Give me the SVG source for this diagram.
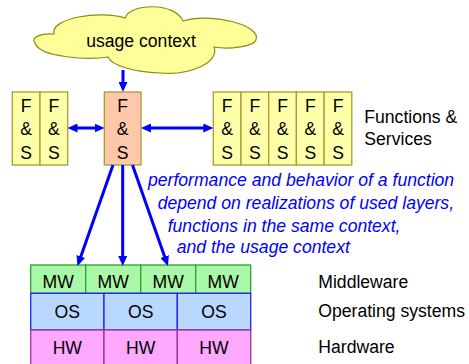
<svg xmlns="http://www.w3.org/2000/svg" width="469" height="364" viewBox="0 0 469 364">
<style>
text{font-family:"Liberation Sans",Arial,sans-serif;font-size:17.6px;fill:#000}
.c{text-anchor:middle}
.note{fill:#0000ff;font-style:italic}
.fs{fill:#ffffaa;stroke:#a89c30;stroke-width:1.3}
.fso{fill:#ffc8a8;stroke:#a89c30;stroke-width:1.3}
.mw{fill:#a8f8a8;stroke:#30a030;stroke-width:1.3}
.os{fill:#b8d8ff;stroke:#2020ff;stroke-width:1.3}
.hw{fill:#ffa8ff;stroke:#a030a0;stroke-width:1.3}
.conn line{stroke:#0000ff;stroke-width:3;marker-end:url(#ah)}
.conn line.dbl{marker-start:url(#ah)}
</style>
<defs>
<marker id="ah" markerUnits="userSpaceOnUse" markerWidth="10" markerHeight="9" refX="6" refY="4.5" orient="auto-start-reverse">
<path d="M0,0 L10,4.5 L0,9 z" fill="#0000ff"/>
</marker>
</defs>
<rect width="469" height="364" fill="#fff"/>
<g id="cloud">
<path d="M35,43 C30,37 42,33 54,34 C50,18 100,10 125,18 C130,3 175,2 183,21 C210,12 262,25 256,40 C254,46 230,50 214,47 C220,62 190,76 160,73 C135,72 112,66 108,57 C90,60 40,58 35,43 Z" fill="#ffff99" stroke="#8c8a10" stroke-width="1.2"/>
<text class="c" x="141" y="46.5">usage context</text>
</g>
<g id="fs-left1"><rect class="fs" x="12.3" y="92" width="27.7" height="73"/><text class="c" x="26.2" y="111.5">F</text><text class="c" x="26.2" y="135">&amp;</text><text class="c" x="26.2" y="158.5">S</text></g>
<g id="fs-left2"><rect class="fs" x="40" y="92" width="27.7" height="73"/><text class="c" x="53.8" y="111.5">F</text><text class="c" x="53.8" y="135">&amp;</text><text class="c" x="53.8" y="158.5">S</text></g>
<g id="fs-center"><rect class="fso" x="104.3" y="92" width="36.7" height="73"/><text class="c" x="122.7" y="111.5">F</text><text class="c" x="122.7" y="135">&amp;</text><text class="c" x="122.7" y="158.5">S</text></g>
<g id="fs-right1"><rect class="fs" x="213.3" y="92" width="27.7" height="73"/><text class="c" x="227.2" y="111.5">F</text><text class="c" x="227.2" y="135">&amp;</text><text class="c" x="227.2" y="158.5">S</text></g>
<g id="fs-right2"><rect class="fs" x="241" y="92" width="27.7" height="73"/><text class="c" x="254.9" y="111.5">F</text><text class="c" x="254.9" y="135">&amp;</text><text class="c" x="254.9" y="158.5">S</text></g>
<g id="fs-right3"><rect class="fs" x="268.7" y="92" width="27.7" height="73"/><text class="c" x="282.6" y="111.5">F</text><text class="c" x="282.6" y="135">&amp;</text><text class="c" x="282.6" y="158.5">S</text></g>
<g id="fs-right4"><rect class="fs" x="296.4" y="92" width="27.7" height="73"/><text class="c" x="310.3" y="111.5">F</text><text class="c" x="310.3" y="135">&amp;</text><text class="c" x="310.3" y="158.5">S</text></g>
<g id="fs-right5"><rect class="fs" x="324.1" y="92" width="27.7" height="73"/><text class="c" x="338" y="111.5">F</text><text class="c" x="338" y="135">&amp;</text><text class="c" x="338" y="158.5">S</text></g>
<g id="label-fs"><text x="364.3" y="122.7">Functions &amp;</text><text x="364.3" y="145">Services</text></g>
<g id="note">
<text class="note" x="148" y="186">performance and behavior of a function</text>
<text class="note" x="157.7" y="209">depend on realizations of used layers,</text>
<text class="note" x="167.7" y="231.5">functions in the same context,</text>
<text class="note" x="176.7" y="253">and the usage context</text>
</g>
<g id="mw-layer">
<rect class="mw" x="30.7" y="265" width="55" height="28.3"/>
<rect class="mw" x="85.7" y="265" width="55" height="28.3"/>
<rect class="mw" x="140.7" y="265" width="55" height="28.3"/>
<rect class="mw" x="195.7" y="265" width="55" height="28.3"/>
<text class="c" x="58.2" y="288.3">MW</text><text class="c" x="113.2" y="288.3">MW</text><text class="c" x="168.2" y="288.3">MW</text><text class="c" x="223.2" y="288.3">MW</text>
</g>
<g id="os-layer">
<rect class="os" x="30.7" y="293.3" width="73.3" height="36.7"/>
<rect class="os" x="104" y="293.3" width="73.3" height="36.7"/>
<rect class="os" x="177.3" y="293.3" width="73.4" height="36.7"/>
<text class="c" x="67.3" y="317.7">OS</text><text class="c" x="140.7" y="317.7">OS</text><text class="c" x="214" y="317.7">OS</text>
</g>
<g id="hw-layer">
<rect class="hw" x="30.7" y="330" width="73.3" height="40"/>
<rect class="hw" x="104" y="330" width="73.3" height="40"/>
<rect class="hw" x="177.3" y="330" width="73.4" height="40"/>
<text class="c" x="67.3" y="354">HW</text><text class="c" x="140.7" y="354">HW</text><text class="c" x="214" y="354">HW</text>
</g>
<g id="layer-labels">
<text x="318.3" y="288.3">Middleware</text>
<text x="318.3" y="317">Operating systems</text>
<text x="318.3" y="353">Hardware</text>
</g>
<g class="conn" id="connectors">
<line x1="123" y1="70" x2="123" y2="88"/>
<line class="dbl" x1="71.5" y1="128" x2="100.5" y2="128"/>
<line class="dbl" x1="145" y1="128" x2="209.3" y2="128"/>
<line x1="113" y1="165" x2="78.8" y2="262.2"/>
<line x1="122.7" y1="165" x2="122.7" y2="262"/>
<line x1="132.5" y1="165" x2="166.6" y2="262.2"/>
</g>
</svg>
